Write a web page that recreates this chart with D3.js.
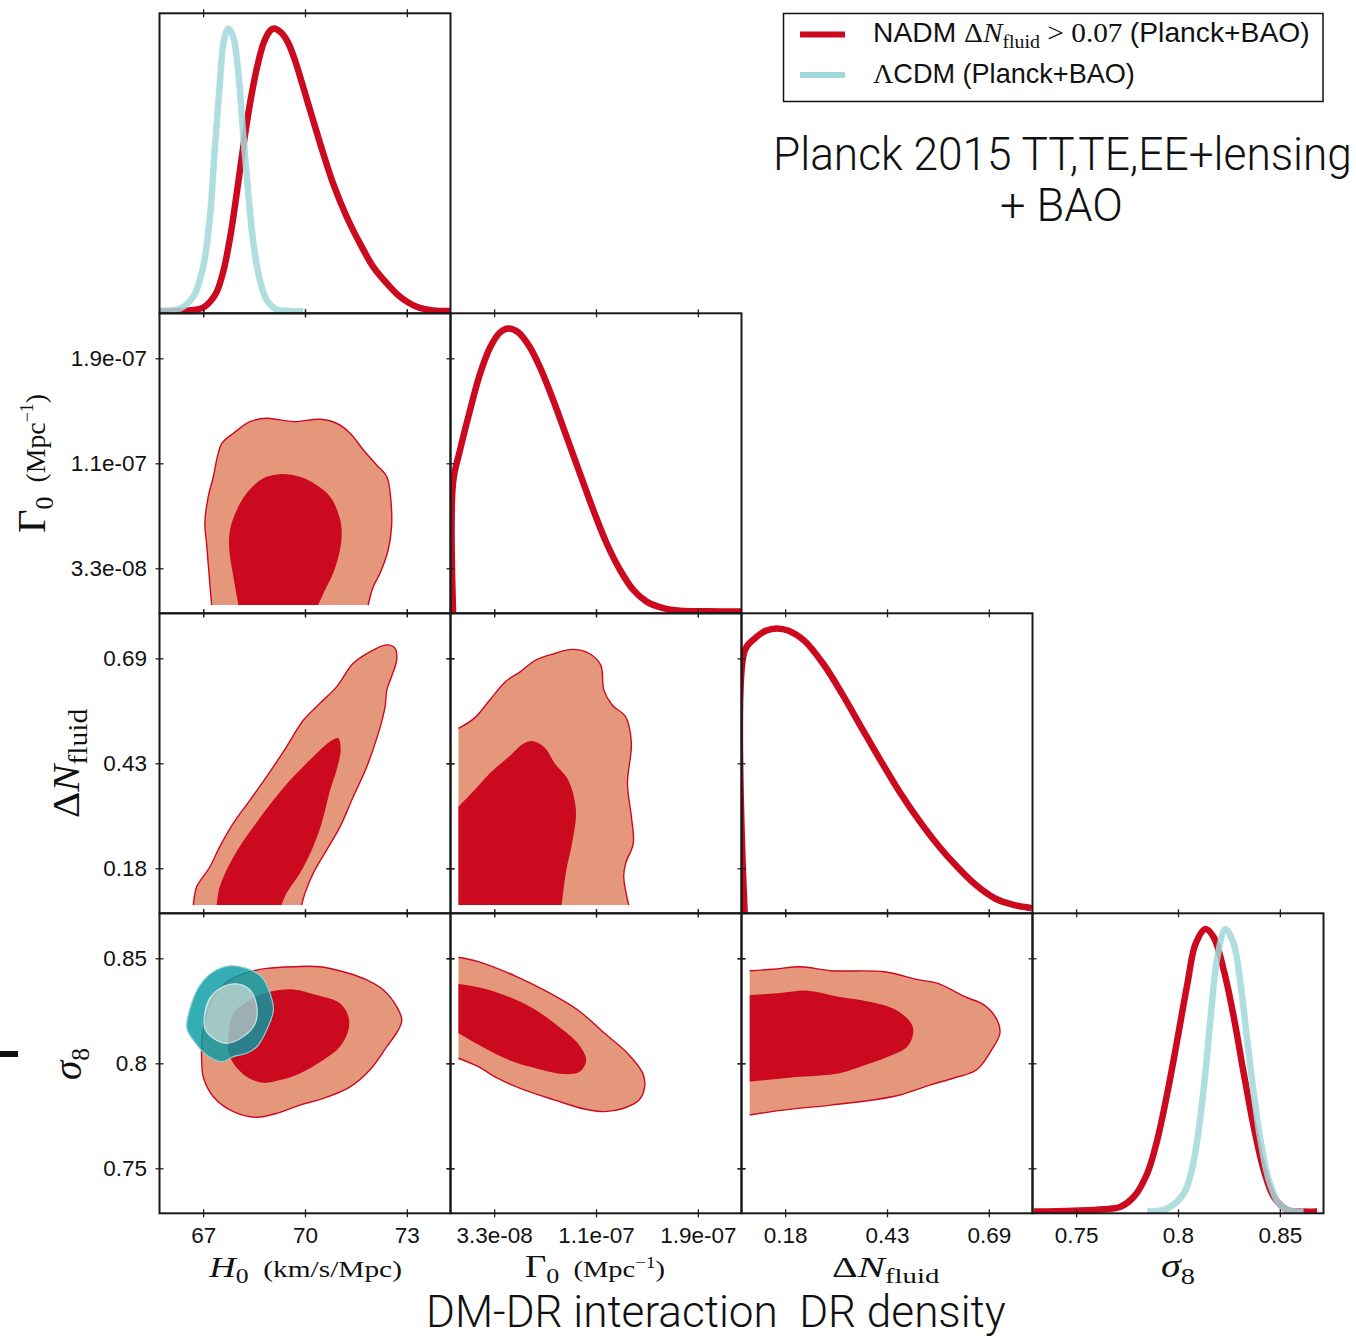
<!DOCTYPE html>
<html>
<head>
<meta charset="utf-8">
<script src="https://cdn.jsdelivr.net/npm/d3@7"></script>
<style>
html,body{margin:0;padding:0;background:#fff;}
svg{display:block;}
</style>
</head>
<body>
<svg id="chart" width="1356" height="1339" xmlns="http://www.w3.org/2000/svg"></svg>
<script>
// ================= DATA =================
// axis ranges (Gamma0 in units of 1e-7 Mpc^-1)
const h0Domain = [65.714, 74.286];
const gammaDomain = [0, 2.243];
const dnDomain = [0.07, 0.7986];
const s8Domain = [0.72857, 0.87143];
const densityDomain = [0, 1.053];

const h0Ticks = [67, 70, 73];
const gammaTicks = [0.3365, 1.1215, 1.9066];
const dnTicks = [0.1793, 0.4343, 0.6893];
const s8Ticks = [0.75, 0.80, 0.85];

const h0TickLabels = ["67", "70", "73"];
const gammaTickLabels = ["3.3e-08", "1.1e-07", "1.9e-07"];
const dnTickLabels = ["0.18", "0.43", "0.69"];
const s8TickLabels = ["0.75", "0.8", "0.85"];

const seriesNames = ["NADM \u0394N_fluid > 0.07 (Planck+BAO)", "\u039BCDM (Planck+BAO)"];

// 1D marginal posteriors [value, normalised density]
const nadmH0 = [[65.73,0.006],[66.52,0.009],[67.00,0.02],[67.20,0.04],[67.40,0.075],[67.60,0.15],[67.80,0.27],[68.00,0.43],[68.20,0.60],[68.40,0.75],[68.60,0.87],[68.80,0.955],[69.00,0.995],[69.10,1.0],[69.30,0.985],[69.50,0.95],[69.70,0.89],[69.95,0.793],[70.24,0.677],[70.54,0.56],[70.83,0.455],[71.23,0.338],[71.62,0.245],[72.01,0.163],[72.41,0.105],[72.80,0.058],[73.29,0.023],[73.78,0.010],[74.27,0.008]];
const lcdmH0 = [[65.73,0.009],[66.32,0.017],[66.71,0.058],[67.00,0.163],[67.20,0.338],[67.34,0.572],[67.49,0.805],[67.61,0.957],[67.74,1.0],[67.89,0.968],[68.04,0.84],[68.18,0.63],[68.33,0.42],[68.48,0.245],[68.67,0.117],[68.87,0.047],[69.16,0.014],[69.56,0.008],[69.95,0.006]];
const nadmGamma0 = [[0.02,0],[0.02,0.46],[0.073,0.572],[0.150,0.712],[0.227,0.84],[0.305,0.933],[0.382,0.986],[0.446,1.0],[0.523,0.986],[0.613,0.933],[0.69,0.863],[0.793,0.747],[0.896,0.618],[0.998,0.49],[1.101,0.362],[1.204,0.245],[1.307,0.152],[1.409,0.082],[1.512,0.041],[1.64,0.018],[1.769,0.009],[1.975,0.007],[2.243,0.006]];
const nadmDN = [[0.078,0],[0.078,0.922],[0.102,0.963],[0.131,0.992],[0.158,1.0],[0.188,0.992],[0.227,0.957],[0.275,0.875],[0.322,0.77],[0.37,0.653],[0.418,0.537],[0.466,0.426],[0.514,0.327],[0.562,0.239],[0.61,0.163],[0.657,0.099],[0.705,0.052],[0.753,0.029],[0.797,0.018]];
const nadmS8 = [[0.7292,0.006],[0.7489,0.009],[0.7636,0.014],[0.7718,0.023],[0.7783,0.058],[0.7849,0.14],[0.7898,0.257],[0.7947,0.42],[0.7996,0.607],[0.8046,0.805],[0.8086,0.945],[0.8135,0.998],[0.8176,0.968],[0.8225,0.852],[0.8274,0.688],[0.8323,0.49],[0.8372,0.303],[0.8421,0.152],[0.847,0.058],[0.8536,0.012],[0.8617,0.006],[0.8683,0.006]];
const lcdmS8 = [[0.7849,0.006],[0.7947,0.017],[0.8029,0.07],[0.8078,0.187],[0.8127,0.443],[0.816,0.688],[0.8193,0.898],[0.8233,0.998],[0.8274,0.945],[0.8307,0.805],[0.834,0.607],[0.8372,0.42],[0.8405,0.257],[0.8446,0.117],[0.8495,0.035],[0.8552,0.009],[0.8617,0.006]];

// 2D contours (68% = inner, 95% = outer)
const nadmH0Gamma95 = [[67.25,0.062],[67.18,0.274],[67.10,0.523],[67.05,0.673],[67.15,0.872],[67.30,1.021],[67.42,1.171],[67.55,1.271],[67.89,1.346],[68.38,1.433],[68.87,1.458],[69.66,1.433],[70.44,1.451],[70.93,1.421],[71.33,1.346],[71.72,1.221],[72.11,1.109],[72.41,1.021],[72.52,0.872],[72.55,0.648],[72.45,0.473],[72.21,0.299],[72.01,0.199],[71.86,0.062]];
const nadmH0Gamma68 = [[68.04,0.062],[67.89,0.274],[67.77,0.473],[67.79,0.623],[67.99,0.772],[68.28,0.897],[68.77,1.009],[69.31,1.042],[69.85,1.021],[70.34,0.959],[70.74,0.872],[70.98,0.748],[71.08,0.623],[71.03,0.473],[70.83,0.299],[70.59,0.174],[70.39,0.062]];
const nadmH0DN95 = [[66.71,0.090],[66.81,0.135],[67.00,0.159],[67.20,0.183],[67.49,0.232],[67.89,0.289],[68.38,0.345],[68.87,0.402],[69.46,0.475],[69.95,0.539],[70.44,0.580],[70.93,0.620],[71.42,0.677],[71.91,0.705],[72.41,0.722],[72.65,0.714],[72.70,0.685],[72.55,0.645],[72.41,0.612],[72.36,0.572],[72.16,0.507],[71.82,0.426],[71.42,0.353],[71.03,0.280],[70.64,0.224],[70.24,0.167],[70.00,0.119],[69.90,0.090]];
const nadmH0DN68 = [[67.40,0.090],[67.49,0.135],[67.89,0.207],[68.48,0.280],[69.07,0.345],[69.66,0.402],[70.24,0.450],[70.74,0.487],[70.98,0.495],[71.05,0.467],[70.93,0.418],[70.74,0.369],[70.49,0.289],[70.20,0.224],[69.85,0.167],[69.46,0.119],[69.31,0.090]];
const nadmGammaDN95 = [[0.061,0.519],[0.184,0.544],[0.303,0.588],[0.421,0.632],[0.539,0.657],[0.657,0.685],[0.804,0.701],[0.937,0.711],[1.070,0.701],[1.158,0.673],[1.182,0.612],[1.246,0.576],[1.350,0.547],[1.394,0.483],[1.364,0.386],[1.394,0.305],[1.409,0.240],[1.350,0.191],[1.335,0.159],[1.374,0.090]];
const nadmGammaDN68 = [[0.061,0.329],[0.184,0.369],[0.303,0.410],[0.450,0.450],[0.568,0.483],[0.642,0.488],[0.730,0.471],[0.804,0.434],[0.907,0.394],[0.967,0.321],[0.937,0.240],[0.893,0.175],[0.857,0.090]];
const gammaDNCorner = [[0.061,0.090]];
const nadmH0S895 = [[66.96,0.800],[67.00,0.7936],[67.30,0.7841],[67.89,0.7770],[68.58,0.7743],[69.17,0.7762],[69.85,0.7801],[70.54,0.7833],[71.33,0.7888],[71.91,0.7968],[72.41,0.8079],[72.75,0.8159],[72.85,0.8206],[72.70,0.8270],[72.31,0.8349],[71.82,0.8397],[71.23,0.8431],[70.44,0.8460],[69.66,0.8460],[68.87,0.8452],[68.38,0.8436],[67.79,0.8397],[67.30,0.8317],[67.05,0.8206],[66.96,0.8095]];
const nadmH0S868 = [[67.74,0.8111],[67.89,0.8238],[68.38,0.8302],[68.97,0.8341],[69.66,0.8352],[70.34,0.8325],[71.03,0.8286],[71.28,0.8222],[71.28,0.8159],[71.03,0.8079],[70.54,0.8016],[69.85,0.7952],[69.26,0.7920],[68.77,0.7907],[68.28,0.7936],[67.89,0.8000],[67.74,0.8063]];
const lcdmH0S895 = [[66.52,0.8167],[66.66,0.8286],[66.91,0.8373],[67.30,0.8436],[67.79,0.8464],[68.28,0.8452],[68.72,0.8412],[68.97,0.8333],[69.07,0.8254],[68.87,0.8159],[68.58,0.8079],[68.28,0.8048],[67.89,0.8032],[67.55,0.8008],[67.10,0.8040],[66.71,0.8111]];
const lcdmH0S868 = [[67.05,0.8238],[67.20,0.8310],[67.59,0.8365],[67.99,0.8378],[68.38,0.8349],[68.58,0.8270],[68.53,0.8190],[68.18,0.8127],[67.69,0.8095],[67.30,0.8119],[67.05,0.8167]];
const nadmGammaS895 = [[0.061,0.8505],[0.214,0.8484],[0.509,0.8413],[0.745,0.8341],[0.981,0.8254],[1.188,0.8143],[1.364,0.8048],[1.482,0.7952],[1.497,0.7889],[1.453,0.7825],[1.335,0.7786],[1.188,0.7770],[1.040,0.7781],[0.804,0.7825],[0.568,0.7873],[0.362,0.7929],[0.214,0.7984],[0.061,0.8024]];
const nadmGammaS868 = [[0.061,0.8378],[0.214,0.8362],[0.450,0.8317],[0.657,0.8254],[0.833,0.8175],[0.981,0.8095],[1.046,0.8016],[0.996,0.7960],[0.863,0.7949],[0.657,0.7976],[0.450,0.8016],[0.244,0.8079],[0.061,0.8143]];
const nadmDNS895 = [[0.0905,0.8441],[0.150,0.8448],[0.217,0.8460],[0.294,0.8441],[0.428,0.8436],[0.514,0.8397],[0.562,0.8381],[0.629,0.8317],[0.677,0.8278],[0.710,0.8206],[0.717,0.8143],[0.696,0.8063],[0.658,0.7968],[0.600,0.7929],[0.543,0.7897],[0.466,0.7849],[0.399,0.7825],[0.294,0.7801],[0.179,0.7778],[0.0905,0.7754]];
const nadmDNS868 = [[0.0905,0.8325],[0.160,0.8333],[0.236,0.8346],[0.313,0.8317],[0.390,0.8293],[0.457,0.8254],[0.495,0.8190],[0.500,0.8143],[0.485,0.8079],[0.438,0.8032],[0.380,0.7992],[0.313,0.7952],[0.217,0.7936],[0.0905,0.7913]];

// ================= LAYOUT / STYLE =================
const L = 159.5, T = 13.3, W = 291, H = 300;
const RED = "#CC0A1F", SALMON = "#E5977B", CYAN = "#A2D8DB";
const TEAL_OUT = "#079BA5", TEAL_IN = "#92D3D5";
const SANS = "'Liberation Sans', Arial, Helvetica, sans-serif";
const SERIF = "'Liberation Serif', 'DejaVu Serif', serif";
const LIGHT = "Roboto, 'Open Sans', Lato, sans-serif";

const axes = {
  H0: {domain: h0Domain, ticks: h0Ticks, labels: h0TickLabels},
  Gamma0: {domain: gammaDomain, ticks: gammaTicks, labels: gammaTickLabels},
  dN: {domain: dnDomain, ticks: dnTicks, labels: dnTickLabels},
  s8: {domain: s8Domain, ticks: s8Ticks, labels: s8TickLabels}
};
const colParam = ["H0", "Gamma0", "dN", "s8"];
const xScale = p => d3.scaleLinear().domain(axes[p].domain).range([0, W]);
const yScale = p => d3.scaleLinear().domain(axes[p].domain).range([H, 0]);
const yDens = d3.scaleLinear().domain(densityDomain).range([H, 0]);

const panels1D = [
  {row: 0, col: 0, p: "H0", series: [[nadmH0, RED, 1], [lcdmH0, CYAN, 0.85]]},
  {row: 1, col: 1, p: "Gamma0", series: [[nadmGamma0, RED, 1]]},
  {row: 2, col: 2, p: "dN", series: [[nadmDN, RED, 1]]},
  {row: 3, col: 3, p: "s8", series: [[nadmS8, RED, 1], [lcdmS8, CYAN, 0.85]]}
];
const panels2D = [
  {row: 1, col: 0, px: "H0", py: "Gamma0", nadm: [nadmH0Gamma95, nadmH0Gamma68], closed: false, corners: []},
  {row: 2, col: 0, px: "H0", py: "dN", nadm: [nadmH0DN95, nadmH0DN68], closed: false, corners: []},
  {row: 2, col: 1, px: "Gamma0", py: "dN", nadm: [nadmGammaDN95, nadmGammaDN68], closed: false, corners: gammaDNCorner},
  {row: 3, col: 0, px: "H0", py: "s8", nadm: [nadmH0S895, nadmH0S868], closed: true, corners: [], lcdm: [lcdmH0S895, lcdmH0S868]},
  {row: 3, col: 1, px: "Gamma0", py: "s8", nadm: [nadmGammaS895, nadmGammaS868], closed: false, corners: []},
  {row: 3, col: 2, px: "dN", py: "s8", nadm: [nadmDNS895, nadmDNS868], closed: false, corners: []}
];

const svg = d3.select("#chart");
const defs = svg.append("defs");

function panelGroup(row, col) {
  const id = `clip-${row}-${col}`;
  defs.append("clipPath").attr("id", id).append("rect").attr("width", W).attr("height", H);
  return svg.append("g").attr("transform", `translate(${L + col * W},${T + row * H})`)
    .append("g").attr("clip-path", `url(#${id})`);
}

// ---- 1D panels ----
panels1D.forEach(pn => {
  const g = panelGroup(pn.row, pn.col);
  const x = xScale(pn.p);
  const line = d3.line().x(d => x(d[0])).y(d => yDens(d[1])).curve(d3.curveCatmullRom.alpha(0.5));
  pn.series.forEach(([data, color, op]) => {
    g.append("path").attr("d", line(data)).attr("fill", "none")
      .attr("stroke", color).attr("stroke-opacity", op).attr("stroke-width", 6.5)
      .attr("stroke-linejoin", "round");
  });
});

// ---- 2D panels ----
panels2D.forEach(pn => {
  const g = panelGroup(pn.row, pn.col);
  const x = xScale(pn.px), y = yScale(pn.py);
  const curve = pn.closed ? d3.curveCatmullRomClosed.alpha(0.5) : d3.curveCatmullRom.alpha(0.5);
  const line = d3.line().x(d => x(d[0])).y(d => y(d[1])).curve(curve);
  const fillPath = pts => pn.closed ? line(pts)
    : line(pts) + pn.corners.map(c => `L${x(c[0])},${y(c[1])}`).join("") + "Z";
  const [outer, inner] = pn.nadm;
  g.append("path").attr("d", fillPath(outer)).attr("fill", SALMON);
  g.append("path").attr("d", line(outer)).attr("fill", "none").attr("stroke", RED).attr("stroke-width", 1.4);
  g.append("path").attr("d", fillPath(inner)).attr("fill", RED);
  if (pn.lcdm) {
    const cl = d3.line().x(d => x(d[0])).y(d => y(d[1])).curve(d3.curveCatmullRomClosed.alpha(0.5));
    const [lo, li] = pn.lcdm;
    g.append("path").attr("d", cl(lo) + cl(li)).attr("fill", TEAL_OUT).attr("fill-opacity", 0.82).attr("fill-rule", "evenodd");
    g.append("path").attr("d", cl(li)).attr("fill", TEAL_IN).attr("fill-opacity", 0.82);
    g.append("path").attr("d", cl(lo)).attr("fill", "none").attr("stroke", "#8fd0d3").attr("stroke-width", 1.2);
    g.append("path").attr("d", cl(li)).attr("fill", "none").attr("stroke", "#c4e8ea").attr("stroke-width", 1.2);
  }
});

// ---- frames and ticks ----
function frame(row, col, is2D) {
  const g = svg.append("g").attr("transform", `translate(${L + col * W},${T + row * H})`);
  const p = colParam[col];
  const x = xScale(p);
  [[-4], [H - 4]].forEach(([off]) => {
    const a = g.append("g").attr("transform", `translate(0,${off})`)
      .call(d3.axisBottom(x).tickValues(axes[p].ticks).tickSize(8).tickSizeOuter(0).tickFormat(""));
    a.select(".domain").remove();
    a.selectAll("line").attr("stroke", "#222").attr("stroke-width", 1.3);
  });
  if (is2D) {
    const py = colParam[row];
    const y = yScale(py);
    [[-4], [W - 4]].forEach(([off]) => {
      const a = g.append("g").attr("transform", `translate(${off},0)`)
        .call(d3.axisRight(y).tickValues(axes[py].ticks).tickSize(8).tickSizeOuter(0).tickFormat(""));
      a.select(".domain").remove();
      a.selectAll("line").attr("stroke", "#222").attr("stroke-width", 1.3);
    });
  }
  g.append("rect").attr("width", W).attr("height", H).attr("fill", "none")
    .attr("stroke", "#1a1a1a").attr("stroke-width", 2);
}
panels1D.forEach(pn => frame(pn.row, pn.col, false));
panels2D.forEach(pn => frame(pn.row, pn.col, true));

// ---- tick labels ----
colParam.forEach((p, col) => {
  const a = svg.append("g").attr("transform", `translate(${L + col * W},${T + 4 * H})`)
    .call(d3.axisBottom(xScale(p)).tickValues(axes[p].ticks).tickSize(0).tickPadding(14)
      .tickFormat((d, i) => axes[p].labels[i]));
  a.select(".domain").remove();
  a.attr("font-family", SANS).attr("font-size", 22.5);
  a.selectAll("text").attr("fill", "#111");
});
[1, 2, 3].forEach(row => {
  const p = colParam[row];
  const a = svg.append("g").attr("transform", `translate(${L},${T + row * H})`)
    .call(d3.axisLeft(yScale(p)).tickValues(axes[p].ticks).tickSize(0).tickPadding(12.5)
      .tickFormat((d, i) => axes[p].labels[i]));
  a.select(".domain").remove();
  a.attr("font-family", SANS).attr("font-size", 22.5);
  a.selectAll("text").attr("fill", "#111");
});

// ---- rich text helpers ----
function richText(parent, parts, baseFamily) {
  const t = parent.append("text").attr("x", 0).attr("y", 0).attr("fill", "#111")
    .attr("font-family", baseFamily).style("white-space", "pre");
  parts.forEach(pt => {
    const s = t.append("tspan").text(pt.t).attr("font-size", pt.fs);
    if (pt.f) s.attr("font-family", pt.f);
    if (pt.it) s.attr("font-style", "italic");
    if (pt.w) s.attr("font-weight", pt.w);
    if (pt.dy) s.attr("dy", pt.dy);
  });
  return t;
}
function fitH(parts, family, x0, x1, baseline) {
  const g = svg.append("g").attr("transform", `translate(0,${baseline})`);
  const t = richText(g, parts, family);
  const b = t.node().getBBox();
  const s = (x1 - x0) / b.width;
  t.attr("transform", `translate(${x0},0) scale(${s},1) translate(${-b.x},0)`);
  return t;
}
function fitV(parts, family, xBase, yBottom, yTop) {
  const g = svg.append("g");
  const t = richText(g, parts, family);
  const b = t.node().getBBox();
  const s = (yBottom - yTop) / b.width;
  t.attr("transform", `translate(${xBase},${yBottom}) rotate(-90) scale(${s},1) translate(${-b.x},0)`);
  return t;
}

// x-axis labels
fitH([{t: "H", it: 1, fs: 30}, {t: "0", fs: 21, dy: 6}, {t: "  (km/s/Mpc)", fs: 24, dy: -6}], SERIF, 208, 402, 1277);
fitH([{t: "\u0393", fs: 31}, {t: "0", fs: 22, dy: 6}, {t: "  (Mpc", fs: 24, dy: -6}, {t: "\u22121", fs: 16, dy: -9}, {t: ")", fs: 24, dy: 9}], SERIF, 525, 665, 1277);
fitH([{t: "\u0394", fs: 29}, {t: "N", it: 1, fs: 30}, {t: "fluid", fs: 21, dy: 6}], SERIF, 832, 940, 1277);
fitH([{t: "\u03C3", it: 1, fs: 34}, {t: "8", fs: 24, dy: 7}], SERIF, 1161, 1195, 1277);

// y-axis labels
fitV([{t: "\u0393", fs: 41}, {t: "0", fs: 26, dy: 8}, {t: "  (Mpc", fs: 28, dy: -8}, {t: "\u22121", fs: 18, dy: -12}, {t: ")", fs: 28, dy: 12}], SERIF, 45, 533, 394);
fitV([{t: "\u0394", fs: 37}, {t: "N", it: 1, fs: 37}, {t: "fluid", fs: 27, dy: 8}], SERIF, 79, 818, 708);
fitV([{t: "\u03C3", it: 1, fs: 40}, {t: "8", fs: 26, dy: 8}], SERIF, 81, 1080, 1048);

// legend
svg.append("rect").attr("x", 783.5).attr("y", 13.5).attr("width", 539.5).attr("height", 88)
  .attr("fill", "#fff").attr("stroke", "#111").attr("stroke-width", 1.5);
const legendColors = [RED, CYAN];
const legendY = [34.5, 75];
legendColors.forEach((c, i) => {
  svg.append("line").attr("x1", 800).attr("x2", 845).attr("y1", legendY[i]).attr("y2", legendY[i])
    .attr("stroke", c).attr("stroke-width", 6);
});
fitH([{t: "NADM ", f: SANS, fs: 27}, {t: "\u0394", f: SERIF, fs: 28}, {t: "N", f: SERIF, it: 1, fs: 28},
      {t: "fluid", f: SERIF, fs: 19, dy: 6}, {t: " > 0.07 ", f: SERIF, fs: 28, dy: -6}, {t: "(Planck+BAO)", f: SANS, fs: 27}],
     SANS, 873, 1310, 41.7);
fitH([{t: "\u039B", f: SERIF, fs: 28}, {t: "CDM (Planck+BAO)", f: SANS, fs: 27}], SANS, 873, 1135, 83.3);

// titles
fitH([{t: "Planck 2015 TT,TE,EE+lensing", fs: 46, w: 300}], LIGHT, 773, 1352, 170);
fitH([{t: "+ BAO", fs: 46, w: 300}], LIGHT, 1000, 1123, 221);
fitH([{t: "DM-DR interaction  DR density", fs: 45, w: 300}], LIGHT, 426, 1006, 1327);

// small mark at left edge
svg.append("rect").attr("x", 0).attr("y", 1051).attr("width", 18).attr("height", 6).attr("fill", "#111");
</script>
</body>
</html>
